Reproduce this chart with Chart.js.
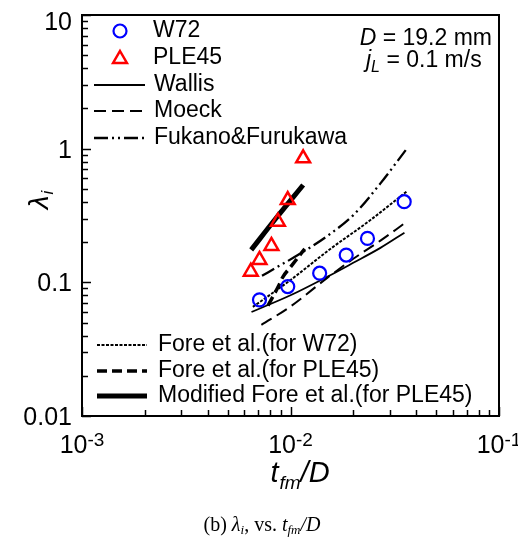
<!DOCTYPE html>
<html>
<head>
<meta charset="UTF-8">
<title>lambda_i vs t_fm/D</title>
<script src="https://cdn.jsdelivr.net/npm/chart.js"></script>
<style>
    html, body { margin: 0; padding: 0; background: #fff; }
    #wrap { width: 518px; height: 538px; }
</style>
</head>
<body>
<div id="wrap"><canvas id="c" width="518" height="538"></canvas></div>
<script>
// measured points
var w72X = [0.0071, 0.0097, 0.0138, 0.0185, 0.0234, 0.0351];
var w72Y = [0.074, 0.093, 0.117, 0.160, 0.213, 0.401];
var ple45X = [0.00645, 0.0071, 0.0081, 0.0087, 0.0097, 0.0115];
var ple45Y = [0.120, 0.147, 0.187, 0.284, 0.413, 0.847];

// correlations
var wallisX = [0.0065, 0.01, 0.015, 0.02, 0.027, 0.0352];
var wallisY = [0.060, 0.080, 0.110, 0.140, 0.181, 0.235];
var moeckX = [0.00725, 0.01, 0.015, 0.02, 0.027, 0.0352];
var moeckY = [0.048, 0.066, 0.108, 0.150, 0.205, 0.276];
var fukanoX = [0.0073, 0.009, 0.011, 0.015, 0.02, 0.027, 0.0357];
var fukanoY = [0.112, 0.135, 0.162, 0.222, 0.318, 0.55, 0.975];
var foreW72X = [0.0066, 0.01, 0.0154, 0.024, 0.0363];
var foreW72Y = [0.0655, 0.104, 0.176, 0.29, 0.482];
var forePleX = [0.0078, 0.0088, 0.0092, 0.0100, 0.0117];
var forePleY = [0.067, 0.095, 0.110, 0.130, 0.178];
var modForeX = [0.00648, 0.0085, 0.0115];
var modForeY = [0.175, 0.30, 0.535];

// axes
var xTickVals = [0.001, 0.01, 0.1];
var xTickExps = ['-3', '-2', '-1'];
var yTickVals = [0.01, 0.1, 1, 10];
var yTickLabels = ['0.01', '0.1', '1', '10'];

var SANS = '"Liberation Sans", Arial, sans-serif';
var SERIF = '"Liberation Serif", "Times New Roman", serif';

function pts(xs, ys) {
    return xs.map(function (x, i) { return { x: x, y: ys[i] }; });
}

function lineSet(label, xs, ys, width, dash) {
    return {
        label: label,
        data: pts(xs, ys),
        showLine: true,
        borderColor: '#000',
        backgroundColor: '#000',
        borderWidth: width,
        borderDash: dash,
        pointRadius: 0,
        cubicInterpolationMode: 'monotone'
    };
}

// draw a row of text pieces with different fonts / offsets
function drawRuns(ctx, runs, x, y, align) {
    var total = 0;
    runs.forEach(function (r) { ctx.font = r.font; r.w = ctx.measureText(r.t).width; total += r.w + (r.gap || 0); });
    var cx = align === 'center' ? x - total / 2 : (align === 'right' ? x - total : x);
    runs.forEach(function (r) {
        ctx.font = r.font;
        ctx.fillText(r.t, cx, y + (r.dy || 0));
        cx += r.w + (r.gap || 0);
    });
}

var decor = {
    id: 'decor',
    afterDraw: function (chart) {
        var ctx = chart.ctx, a = chart.chartArea;
        var xs = chart.scales.x, ys = chart.scales.y;
        ctx.save();
        ctx.fillStyle = '#000';
        ctx.strokeStyle = '#000';

        // frame
        ctx.lineWidth = 2;
        ctx.setLineDash([]);
        ctx.strokeRect(a.left, a.top, a.right - a.left, a.bottom - a.top);

        // inside ticks
        ctx.lineWidth = 1.5;
        var e, m, p;
        for (e = -3; e < -1 + 0.5; e++) {
            for (m = 1; m <= 9; m++) {
                var v = m * Math.pow(10, e);
                if (v > 0.1 + 1e-9) break;
                p = Math.round(xs.getPixelForValue(v)) + 0.5;
                ctx.beginPath();
                ctx.moveTo(p, a.bottom);
                ctx.lineTo(p, a.bottom - (m === 1 ? 9 : 6));
                ctx.stroke();
            }
        }
        for (e = -2; e <= 1; e++) {
            for (m = 1; m <= 9; m++) {
                var w = m * Math.pow(10, e);
                if (w > 10 + 1e-9) break;
                p = Math.round(ys.getPixelForValue(w)) + 0.5;
                ctx.beginPath();
                ctx.moveTo(a.left, p);
                ctx.lineTo(a.left + (m === 1 ? 9 : 6), p);
                ctx.stroke();
            }
        }

        // tick labels
        ctx.textBaseline = 'middle';
        ctx.textAlign = 'left';
        yTickVals.forEach(function (v, i) {
            var py = Math.max(ys.getPixelForValue(v) + 2, 23);
            ctx.font = '25px ' + SANS;
            var tw = ctx.measureText(yTickLabels[i]).width;
            ctx.fillText(yTickLabels[i], 72 - tw, py);
        });
        ctx.textBaseline = 'alphabetic';
        xTickVals.forEach(function (v, i) {
            var px = xs.getPixelForValue(v);
            drawRuns(ctx, [
                { t: '10', font: '25px ' + SANS },
                { t: xTickExps[i], font: '19px ' + SANS, dy: -7 }
            ], px, 453, 'center');
        });

        // axis titles
        drawRuns(ctx, [
            { t: 't', font: 'italic 29px ' + SANS, gap: 1 },
            { t: 'fm', font: 'italic 19px ' + SANS, dy: 7 },
            { t: '/D', font: 'italic 29px ' + SANS }
        ], 300, 482, 'center');

        ctx.save();
        ctx.translate(40, 200);
        ctx.rotate(-Math.PI / 2);
        drawRuns(ctx, [
            { t: '\u03bb', font: 'italic 28px ' + SANS, gap: 1 },
            { t: 'i', font: 'italic 17px ' + SANS, dy: 5 }
        ], 0, 8, 'center');
        ctx.restore();

        // caption
        drawRuns(ctx, [
            { t: '(b) ', font: '20px ' + SERIF },
            { t: '\u03bb', font: 'italic 20px ' + SERIF },
            { t: 'i', font: 'italic 13px ' + SERIF, dy: 3 },
            { t: ', vs. ', font: '20px ' + SERIF },
            { t: 't', font: 'italic 20px ' + SERIF },
            { t: 'fm', font: 'italic 13px ' + SERIF, dy: 3 },
            { t: '/D', font: 'italic 20px ' + SERIF }
        ], 262, 531, 'center');

        // condition text
        drawRuns(ctx, [
            { t: 'D', font: 'italic 23px ' + SANS },
            { t: ' = 19.2 mm', font: '23px ' + SANS }
        ], 492, 45, 'right');
        drawRuns(ctx, [
            { t: 'j', font: 'italic 23px ' + SANS },
            { t: 'L', font: 'italic 16px ' + SANS, dy: 5 },
            { t: ' = 0.1 m/s', font: '23px ' + SANS }
        ], 366, 67, 'left');

        // legend
        var ds = chart.data.datasets;
        ctx.textBaseline = 'middle';
        ctx.font = '23px ' + SANS;
        function sample(d, x1, x2, y) {
            ctx.save();
            ctx.lineWidth = d.borderWidth;
            ctx.setLineDash(d.borderDash || []);
            ctx.beginPath();
            ctx.moveTo(x1, y);
            ctx.lineTo(x2, y);
            ctx.stroke();
            ctx.restore();
        }
        function marker(d, x, y) {
            ctx.save();
            ctx.strokeStyle = d.pointBorderColor;
            ctx.lineWidth = d.pointBorderWidth;
            ctx.beginPath();
            if (d.pointStyle === 'circle') {
                ctx.arc(x, y, d.pointRadius, 0, Math.PI * 2);
            } else {
                var r = d.pointRadius;
                ctx.moveTo(x, y - r);
                ctx.lineTo(x + r * 0.866, y + r * 0.5);
                ctx.lineTo(x - r * 0.866, y + r * 0.5);
                ctx.closePath();
            }
            ctx.stroke();
            ctx.restore();
        }
        var topRows = [31, 58, 85, 111, 138];
        marker(ds[0], 120, topRows[0]);
        ctx.fillText(ds[0].label, 153, topRows[0]);
        marker(ds[1], 120, topRows[1] + 1);
        ctx.fillText(ds[1].label, 153, topRows[1]);
        for (var k = 2; k <= 4; k++) {
            sample(ds[k], 94, 145, topRows[k]);
            ctx.fillText(ds[k].label, 154, topRows[k]);
        }
        var botRows = [345, 371, 396];
        for (var j = 5; j <= 7; j++) {
            sample(ds[j], 97, 147, botRows[j - 5]);
            ctx.fillText(ds[j].label, 158, botRows[j - 5]);
        }
        ctx.restore();
    }
};

new Chart(document.getElementById('c'), {
    type: 'scatter',
    data: {
        datasets: [
            {
                label: 'W72',
                data: pts(w72X, w72Y),
                pointStyle: 'circle',
                pointRadius: 6.5,
                pointBorderWidth: 2.2,
                pointBorderColor: '#0000ff',
                pointBackgroundColor: 'rgba(0,0,0,0)',
                showLine: false
            },
            {
                label: 'PLE45',
                data: pts(ple45X, ple45Y),
                pointStyle: 'triangle',
                pointRadius: 8,
                pointBorderWidth: 2.5,
                pointBorderColor: '#ff0000',
                pointBackgroundColor: 'rgba(0,0,0,0)',
                showLine: false
            },
            lineSet('Wallis', wallisX, wallisY, 1.8, []),
            lineSet('Moeck', moeckX, moeckY, 2, [12, 6]),
            lineSet('Fukano&Furukawa', fukanoX, fukanoY, 2.3, [14, 4, 2, 4, 2, 4]),
            lineSet('Fore et al.(for W72)', foreW72X, foreW72Y, 2, [3, 1.5]),
            lineSet('Fore et al.(for PLE45)', forePleX, forePleY, 3.5, [10, 5]),
            lineSet('Modified Fore et al.(for PLE45)', modForeX, modForeY, 5, [])
        ]
    },
    options: {
        responsive: false,
        animation: false,
        devicePixelRatio: 1,
        layout: { padding: { left: 82, right: 19, top: 15, bottom: 122 } },
        plugins: { legend: { display: false }, tooltip: { enabled: false } },
        scales: {
            x: { type: 'logarithmic', min: 0.001, max: 0.1, display: false },
            y: { type: 'logarithmic', min: 0.01, max: 10, display: false }
        }
    },
    plugins: [decor]
});
</script>
</body>
</html>
